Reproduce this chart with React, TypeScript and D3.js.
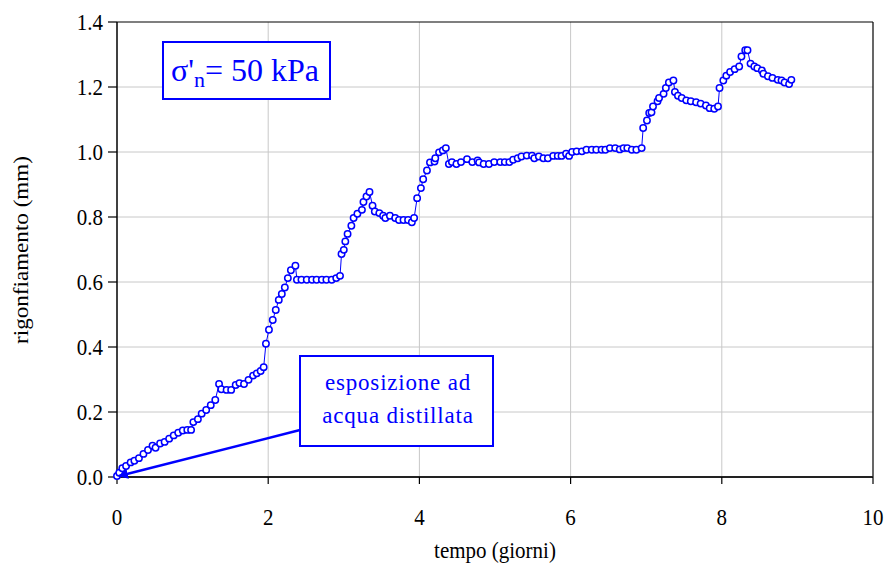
import React from "react";
import * as d3 from "d3";

const days = [
  0.00,0.03,0.07,0.12,0.18,0.23,0.29,0.35,0.41,0.47,
  0.51,0.57,0.63,0.69,0.75,0.81,0.87,0.93,0.98,1.01,
  1.07,1.12,1.18,1.24,1.30,1.35,1.38,1.45,1.51,1.57,
  1.62,1.68,1.74,1.80,1.85,1.90,1.94,1.97,2.01,2.06,
  2.10,2.14,2.18,2.22,2.26,2.30,2.36,2.38,2.44,2.51,
  2.58,2.64,2.71,2.77,2.84,2.90,2.95,2.97,3.00,3.02,
  3.05,3.10,3.13,3.18,3.24,3.26,3.30,3.34,3.38,3.41,
  3.47,3.52,3.55,3.61,3.68,3.73,3.79,3.85,3.90,3.93,
  3.97,4.02,4.05,4.10,4.14,4.20,4.21,4.26,4.31,4.35,
  4.39,4.43,4.49,4.55,4.63,4.70,4.77,4.79,4.85,4.92,
  4.99,5.07,5.13,5.19,5.24,5.30,5.35,5.42,5.49,5.52,
  5.58,5.64,5.70,5.77,5.83,5.88,5.94,5.98,6.02,6.08,
  6.15,6.21,6.28,6.34,6.41,6.46,6.52,6.59,6.65,6.70,
  6.75,6.81,6.87,6.94,6.96,7.01,7.04,7.07,7.09,7.15,
  7.17,7.23,7.26,7.30,7.36,7.38,7.42,7.47,7.53,7.59,
  7.66,7.72,7.79,7.84,7.90,7.95,7.97,8.02,8.06,8.11,
  8.17,8.23,8.26,8.31,8.34,8.38,8.43,8.47,8.53,8.55,
  8.61,8.67,8.74,8.79,8.83,8.89,8.92,
];

const swelling = [
  0.003,0.013,0.027,0.034,0.045,0.05,0.058,0.071,0.083,0.096,
  0.09,0.103,0.108,0.118,0.128,0.136,0.143,0.145,0.145,0.169,
  0.178,0.195,0.206,0.221,0.237,0.286,0.27,0.268,0.268,0.283,
  0.289,0.286,0.299,0.312,0.319,0.326,0.338,0.41,0.453,0.483,
  0.514,0.545,0.563,0.583,0.612,0.636,0.65,0.607,0.607,0.607,
  0.607,0.607,0.607,0.607,0.607,0.612,0.619,0.686,0.699,0.725,
  0.748,0.773,0.797,0.81,0.822,0.846,0.863,0.877,0.835,0.817,
  0.812,0.804,0.797,0.804,0.797,0.791,0.791,0.791,0.784,0.797,
  0.858,0.889,0.916,0.943,0.968,0.971,0.981,0.999,1.005,1.012,
  0.963,0.969,0.963,0.969,0.978,0.969,0.974,0.968,0.963,0.963,
  0.969,0.969,0.969,0.969,0.976,0.981,0.986,0.989,0.989,0.981,
  0.986,0.981,0.981,0.988,0.988,0.988,0.995,0.988,1.0,1.002,
  1.002,1.007,1.007,1.007,1.007,1.007,1.012,1.012,1.008,1.012,
  1.012,1.007,1.007,1.012,1.074,1.097,1.12,1.122,1.14,1.156,
  1.166,1.179,1.197,1.214,1.22,1.185,1.173,1.166,1.159,1.156,
  1.153,1.149,1.143,1.135,1.133,1.14,1.197,1.22,1.235,1.246,
  1.255,1.263,1.294,1.313,1.313,1.272,1.263,1.258,1.251,1.241,
  1.233,1.228,1.222,1.22,1.214,1.209,1.222,
];

const xTicks = [0, 2, 4, 6, 8, 10];
const yTicks = [0, 0.2, 0.4, 0.6, 0.8, 1.0, 1.2, 1.4];
const xTitle = "tempo (giorni)";
const yTitle = "rigonfiamento (mm)";
const noteLines = ["esposizione ad", "acqua distillata"];

const W = 886, H = 569;
const left = 117, right = 873, top = 22, bottom = 477;
const BLUE = "#0000ff";
const FONT = "Liberation Serif";

export default function App() {
  const x = d3.scaleLinear().domain([0, 10]).range([left, right]);
  const y = d3.scaleLinear().domain([0, 1.4]).range([bottom, top]);
  const pts = days.map((d, i) => [d, swelling[i]] as [number, number]);
  const line = d3.line<[number, number]>().x(d => x(d[0])).y(d => y(d[1]));
  const ts = { fontFamily: FONT };

  return (
    <svg width={W} height={H} style={{ position: "absolute", left: 0, top: 0, background: "#fff", fontFamily: FONT }}>
      <defs>
        <marker id="arr" viewBox="0 0 10 10" refX="9" refY="5" markerWidth="4" markerHeight="4" orient="auto-start-reverse">
          <path d="M0,0 L10,5 L0,10 z" fill={BLUE} />
        </marker>
      </defs>
      {xTicks.filter(t => t > 0 && t < 10).map(t => (
        <line key={"gx" + t} x1={x(t)} x2={x(t)} y1={top} y2={bottom} stroke="#c8c8c8" strokeWidth={1} />
      ))}
      {yTicks.filter(t => t > 0 && t < 1.4).map(t => (
        <line key={"gy" + t} x1={left} x2={right} y1={y(t)} y2={y(t)} stroke="#c8c8c8" strokeWidth={1} />
      ))}
      <line x1={left} x2={right} y1={top} y2={top} stroke="#000" strokeWidth={1.2} />
      <line x1={right} x2={right} y1={top} y2={bottom} stroke="#000" strokeWidth={1.2} />
      <line x1={left} x2={left} y1={top} y2={bottom} stroke="#000" strokeWidth={1.5} />
      <line x1={left} x2={right} y1={bottom} y2={bottom} stroke="#222" strokeWidth={2} />
      {yTicks.map(t => (
        <g key={"yt" + t}>
          <line x1={left - 9} x2={left} y1={y(t)} y2={y(t)} stroke="#000" strokeWidth={1.2} />
          <text style={ts} transform={`translate(103,${y(t)}) scale(1,1.1)`} dy="0.35em" textAnchor="end" fontSize={21}>{t.toFixed(1)}</text>
        </g>
      ))}
      {xTicks.map(t => (
        <g key={"xt" + t}>
          <line x1={x(t)} x2={x(t)} y1={bottom} y2={bottom + 7} stroke="#000" strokeWidth={1.2} />
          <text style={ts} transform={`translate(${x(t)},525) scale(1,1.1)`} textAnchor="middle" fontSize={21}>{t}</text>
        </g>
      ))}
      <text style={ts} transform="translate(495,558) scale(1,1.1)" textAnchor="middle" fontSize={21}>{xTitle}</text>
      <text style={ts} transform="translate(28,250) scale(1,1.1) rotate(-90)" textAnchor="middle" fontSize={21}>{yTitle}</text>

      <path d={line(pts) || ""} fill="none" stroke={BLUE} strokeWidth={1} />
      {pts.map((p, i) => (
        <circle key={i} cx={x(p[0])} cy={y(p[1])} r={3.2} fill="#fff" stroke={BLUE} strokeWidth={1.5} />
      ))}

      <rect x={163} y={42} width={167} height={57} fill="#fff" stroke={BLUE} strokeWidth={2} />
      <text style={ts} x={171} y={81} fontSize={32} fill={BLUE}>
        σ'<tspan fontSize={22} dy={6}>n</tspan><tspan dy={-6}>= 50 kPa</tspan>
      </text>

      <line x1={300} y1={430} x2={119} y2={476} stroke={BLUE} strokeWidth={2.5} markerEnd="url(#arr)" />
      <rect x={300} y={356} width={193} height={90} fill="#fff" stroke={BLUE} strokeWidth={2} />
      <text style={ts} x={398} y={390} textAnchor="middle" fontSize={23} fill={BLUE} letterSpacing={0.8}>{noteLines[0]}</text>
      <text style={ts} x={398} y={423} textAnchor="middle" fontSize={23} fill={BLUE} letterSpacing={0.8}>{noteLines[1]}</text>
    </svg>
  );
}
